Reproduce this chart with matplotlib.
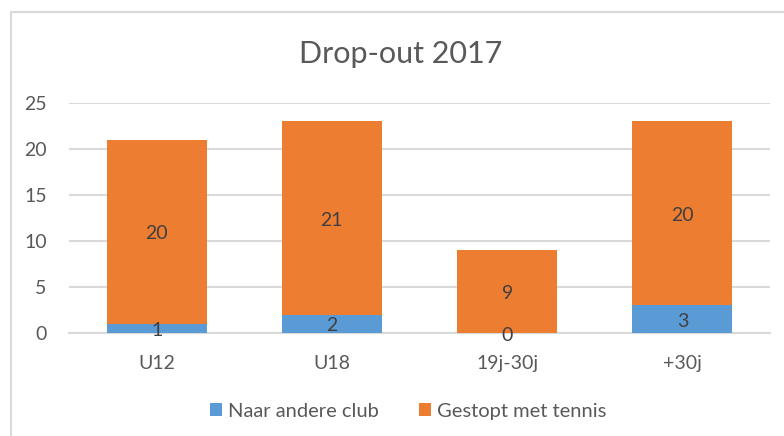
import matplotlib.pyplot as plt
import matplotlib.patches as mpatches
import numpy as np

plt.rcParams['font.family'] = ['Lato', 'DejaVu Sans']

categories = ["U12", "U18", "19j-30j", "+30j"]
naar_andere_club = [1, 2, 0, 3]
gestopt_met_tennis = [20, 21, 9, 20]

blue = "#5B9BD5"
orange = "#ED7D31"
grid_color = "#D9D9D9"
text_color = "#595959"
label_color = "#404040"

fig = plt.figure(figsize=(7.84, 4.36), dpi=100)
ax = fig.add_axes([69 / 784, 1 - 333 / 436, 701 / 784, 230 / 436])

x = np.arange(len(categories))
width = 0.57
b1 = ax.bar(x, naar_andere_club, width, color=blue, label="Naar andere club", zorder=3)
b2 = ax.bar(x, gestopt_met_tennis, width, bottom=naar_andere_club, color=orange,
            label="Gestopt met tennis", zorder=3)

# data labels centred in each segment (Excel puts them a touch lower)
for rects in (b1, b2):
    ax.bar_label(rects, label_type="center", color=label_color, fontsize=14,
                 padding=-1.5)

ax.set_xlim(-0.5, len(categories) - 0.5)
ax.set_ylim(0, 25)
ax.set_yticks(range(0, 26, 5))
ax.set_xticks(x)
ax.set_xticklabels(categories)
ax.yaxis.grid(True, color=grid_color, linewidth=1.5, zorder=0)
ax.set_axisbelow(True)
for s in ("top", "right", "left"):
    ax.spines[s].set_visible(False)
ax.spines["bottom"].set_color(grid_color)
ax.spines["bottom"].set_linewidth(1.5)
ax.tick_params(axis="both", length=0, colors=text_color, labelsize=14)
ax.tick_params(axis="y", pad=16)
ax.tick_params(axis="x", pad=15.5)

fig.text(401 / 784, 1 - 54 / 436, "Drop-out 2017", ha="center", va="center",
         fontsize=22, color=text_color)

fig.legend(handles=[b1, b2], loc="center", bbox_to_anchor=(408 / 784, 1 - 411 / 436),
           ncol=2, frameon=False, fontsize=14.5, labelcolor=text_color,
           handlelength=0.6, handleheight=0.6, handletextpad=0.3, columnspacing=2.0)

# chart border (clipped on the right and bottom in the original)
fig.patches.append(mpatches.Rectangle((10.5 / 784, -0.05), 1.0, 1 - 12.5 / 436 + 0.05,
                                      transform=fig.transFigure, fill=False,
                                      edgecolor=grid_color, linewidth=1.5))

fig.savefig("out.png", dpi=100)
